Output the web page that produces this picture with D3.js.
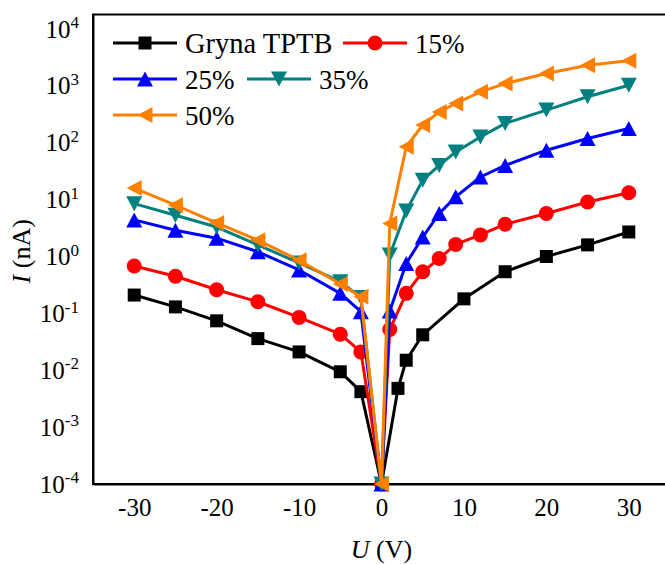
<!DOCTYPE html>
<html>
<head>
<meta charset="utf-8">
<script src="https://cdn.jsdelivr.net/npm/d3@7"></script>
<style>
  html, body { margin: 0; padding: 0; background: #fff; }
  svg { display: block; }
  svg text, svg tspan { font-family: "Liberation Serif", "Times New Roman", Times, serif !important; fill: #000; }
</style>
</head>
<body>
<svg id="chart" width="665" height="564" font-family="Liberation Serif"></svg>
<script>
// Voltage sweeps (V) and measured currents (nA) for each sample
const voltsBlack = [-30, -25, -20, -15, -10, -5, -2.5, 0, 2, 3, 5, 10, 15, 20, 25, 30];
const currentBlack = [0.21, 0.13, 0.074, 0.036, 0.021, 0.0094, 0.0042, 1e-4, 0.0048, 0.015, 0.042, 0.18, 0.54, 1.0, 1.6, 2.7];

const voltsDoped = [-30, -25, -20, -15, -10, -5, -2.5, 0, 1, 3, 5, 7, 9, 12, 15, 20, 25, 30];
const current15 = [0.68, 0.45, 0.26, 0.16, 0.085, 0.043, 0.021, 1e-4, 0.052, 0.225, 0.54, 0.92, 1.63, 2.4, 3.7, 5.7, 9.1, 13.2];
const current25 = [4.4, 2.9, 2.1, 1.21, 0.58, 0.225, 0.107, 1e-4, 0.11, 0.755, 2.2, 5.7, 11.2, 25, 40, 74, 119, 178];
const current35 = [8.5, 5.3, 3.3, 1.6, 0.77, 0.36, 0.19, 1e-4, 1.06, 6.3, 22, 40, 69, 126, 219, 375, 643, 1025];
const current50 = [16, 8.0, 3.9, 1.94, 0.86, 0.33, 0.196, 1e-4, 3.8, 85, 205, 349, 490, 785, 1096, 1650, 2310, 2760];

const seriesNames = ["Gryna TPTB", "15%", "25%", "35%", "50%"];
const seriesColors = ["#000000", "#ff0000", "#0000ff", "#008080", "#ff8000"];
const seriesMarkers = ["square", "circle", "triangleUp", "triangleDown", "triangleLeft"];

const xTicks = [-30, -20, -10, 0, 10, 20, 30];
const yExponents = [-4, -3, -2, -1, 0, 1, 2, 3, 4];

const SERIF = "'Liberation Serif', 'Times New Roman', serif";

const series = [
  { v: voltsBlack, i: currentBlack },
  { v: voltsDoped, i: current15 },
  { v: voltsDoped, i: current25 },
  { v: voltsDoped, i: current35 },
  { v: voltsDoped, i: current50 }
].map((s, k) => ({
  name: seriesNames[k], color: seriesColors[k], marker: seriesMarkers[k],
  points: s.v.map((v, j) => ({ v, i: s.i[j] }))
}));

const svg = d3.select("#chart");
const x = d3.scaleLinear().domain([-35, 35]).range([93, 670]);
const y = d3.scaleLog().domain([1e-4, Math.pow(10, 4.255)]).range([484, 14.5]);

// marker shapes
function markerPath(type) {
  switch (type) {
    case "square": return "M-6.5,-6.5H6.5V6.5H-6.5Z";
    case "circle": return d3.symbol(d3.symbolCircle, Math.PI * 7.5 * 7.5)();
    case "triangleUp": return "M0,-7.5L8,7.5L-8,7.5Z";
    case "triangleDown": return "M0,7.5L8,-7.5L-8,-7.5Z";
    case "triangleLeft": return "M-7.5,0L7.5,-8L7.5,8Z";
  }
}

// frame (top spine; right spine falls outside the view)
svg.append("rect")
  .attr("x", x(-35)).attr("y", y.range()[1])
  .attr("width", x(35) - x(-35)).attr("height", y.range()[0] - y.range()[1])
  .attr("fill", "none").attr("stroke", "#000").attr("stroke-width", 2);

// x axis
const gx = svg.append("g").attr("transform", `translate(0,${y(1e-4)})`)
  .call(d3.axisBottom(x).tickValues(xTicks).tickSize(0).tickPadding(14).tickFormat(d => String(d)));
gx.attr("font-family", SERIF);
gx.select(".domain").attr("stroke-width", 2);
gx.selectAll("text").attr("font-size", 25);

// y axis with power-of-ten labels
const gy = svg.append("g").attr("transform", `translate(${x(-35)},0)`)
  .call(d3.axisLeft(y).tickValues(yExponents.map(e => Math.pow(10, e))).tickSize(0).tickPadding(14).tickFormat(() => ""));
gy.attr("font-family", SERIF);
gy.select(".domain").attr("stroke-width", 2);
gy.selectAll(".tick text").each(function (d) {
  const t = d3.select(this).attr("font-size", 25);
  const e = Math.round(Math.log10(d));
  t.append("tspan").text("10");
  t.append("tspan").attr("dy", "-0.55em").attr("font-size", 17).text(String(e));
});

// axis titles
svg.append("text")
  .attr("transform", `translate(30,${(y.range()[0] + y.range()[1]) / 2 + 2}) rotate(-90)`)
  .attr("text-anchor", "middle").attr("font-size", 26).attr("font-family", SERIF)
  .call(t => {
    t.append("tspan").attr("font-style", "italic").text("I");
    t.append("tspan").text(" (nA)");
  });
svg.append("text")
  .attr("x", x(0)).attr("y", 558)
  .attr("text-anchor", "middle").attr("font-size", 26).attr("font-family", SERIF)
  .call(t => {
    t.append("tspan").attr("font-style", "italic").text("U");
    t.append("tspan").text(" (V)");
  });

// data lines and markers
const line = d3.line().x(d => x(d.v)).y(d => y(d.i));
const gs = svg.append("g").selectAll("g").data(series).join("g");
gs.append("path")
  .attr("d", s => line(s.points))
  .attr("fill", "none").attr("stroke", s => s.color).attr("stroke-width", 3)
  .attr("stroke-linejoin", "round");
gs.each(function (s) {
  d3.select(this).selectAll(".pt").data(s.points).join("path")
    .attr("class", "pt")
    .attr("transform", d => `translate(${x(d.v)},${y(d.i)})`)
    .attr("d", markerPath(s.marker))
    .attr("fill", s.color);
});

// legend
const legendPos = [
  { lx: 113, ly: 43 }, { lx: 343, ly: 43 },
  { lx: 113, ly: 79 }, { lx: 247, ly: 79 },
  { lx: 113, ly: 115 }
];
const lg = svg.append("g").attr("font-family", SERIF).selectAll("g").data(series).join("g")
  .attr("transform", (s, k) => `translate(${legendPos[k].lx},${legendPos[k].ly})`);
lg.append("line").attr("x1", 0).attr("x2", 64).attr("stroke", s => s.color).attr("stroke-width", 3);
lg.append("path").attr("transform", "translate(32,0)").attr("d", s => markerPath(s.marker)).attr("fill", s => s.color);
lg.append("text").attr("x", 72).attr("y", 10).attr("font-size", s => s.name.length > 4 ? 28.5 : 27).text(s => s.name);
</script>
</body>
</html>
